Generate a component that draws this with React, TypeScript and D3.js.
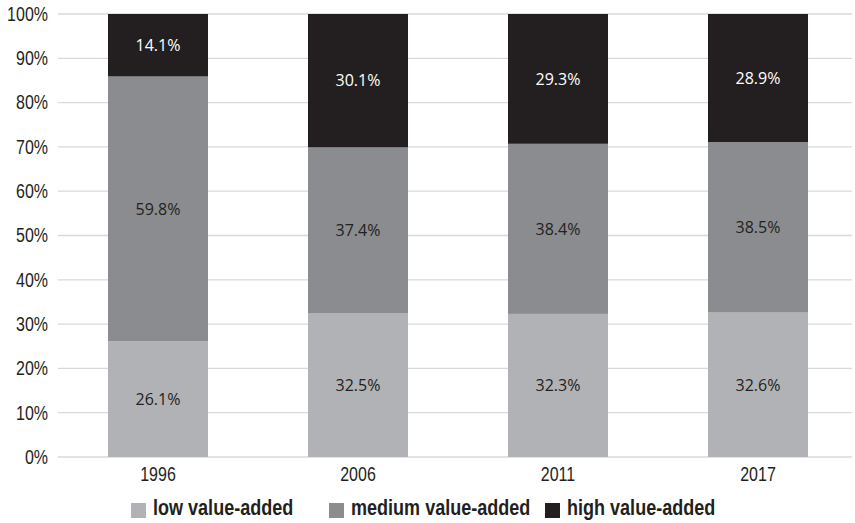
import React from "react";
import * as d3 from "d3";

const years = ["1996", "2006", "2011", "2017"];
const lowValues = [26.1, 32.5, 32.3, 32.6];
const mediumValues = [59.8, 37.4, 38.4, 38.5];
const highValues = [14.1, 30.1, 29.3, 28.9];
const seriesNames = ["low value-added", "medium value-added", "high value-added"];
const seriesColors = ["#b1b2b5", "#8b8c8f", "#231f20"];
const labelColors = ["#231f20", "#231f20", "#ffffff"];
const yTicks = [0, 10, 20, 30, 40, 50, 60, 70, 80, 90, 100];

const W = 855;
const H = 523;
const SANS = "'Liberation Sans', Arial, sans-serif";
const NARROW_SCALE = 0.82;

export default function App() {
  const x = d3.scaleBand().domain(years).range([58, 858]).paddingInner(0.5).paddingOuter(0.25);
  const y = d3.scaleLinear().domain([0, 100]).range([457, 14]);
  const rows = years.map((yr, i) => ({
    year: yr,
    low: lowValues[i],
    medium: mediumValues[i],
    high: highValues[i],
  }));
  const stack = d3.stack<any>().keys(["low", "medium", "high"]);
  const layers = stack(rows);
  const legendX = [131, 329, 545];

  return (
    <svg width={W} height={H} style={{ position: "absolute", left: 0, top: 0 }}>
      <rect width={W} height={H} fill="#fff" />
      {yTicks.map((t) => (
        <g key={t}>
          <line x1={58} x2={852} y1={y(t)} y2={y(t)} stroke="#d9d9d9" strokeWidth={1.3} />
          <text
            transform={`translate(48,${y(t)}) scale(${NARROW_SCALE},1)`}
            dy="0.35em"
            textAnchor="end"
            fontFamily={SANS}
            fontSize={19.5}
            fill="#231f20"
          >
            {t}%
          </text>
        </g>
      ))}
      {layers.map((layer, li) =>
        layer.map((d, i) => (
          <g key={`${li}-${i}`}>
            <rect
              x={x(years[i])!}
              width={x.bandwidth()}
              y={y(d[1])}
              height={y(d[0]) - y(d[1])}
              fill={seriesColors[li]}
            />
            <text
              x={x(years[i])! + x.bandwidth() / 2}
              y={(y(d[0]) + y(d[1])) / 2}
              dy="0.36em"
              textAnchor="middle"
              fontFamily="'Open Sans', sans-serif"
              fontSize={16}
              fill={labelColors[li]}
            >
              {(d[1] - d[0]).toFixed(1)}%
            </text>
          </g>
        ))
      )}
      {years.map((yr) => (
        <text
          key={yr}
          transform={`translate(${x(yr)! + x.bandwidth() / 2},481) scale(${NARROW_SCALE},1)`}
          textAnchor="middle"
          fontFamily={SANS}
          fontSize={19.5}
          fill="#231f20"
        >
          {yr}
        </text>
      ))}
      {seriesNames.map((n, i) => (
        <g key={n}>
          <rect x={legendX[i]} y={503} width={15} height={15} fill={seriesColors[i]} />
          <text
            transform={`translate(${legendX[i] + 22},515) scale(${NARROW_SCALE},1)`}
            fontFamily={SANS}
            fontWeight="bold"
            fontSize={22}
            fill="#231f20"
          >
            {n}
          </text>
        </g>
      ))}
    </svg>
  );
}
